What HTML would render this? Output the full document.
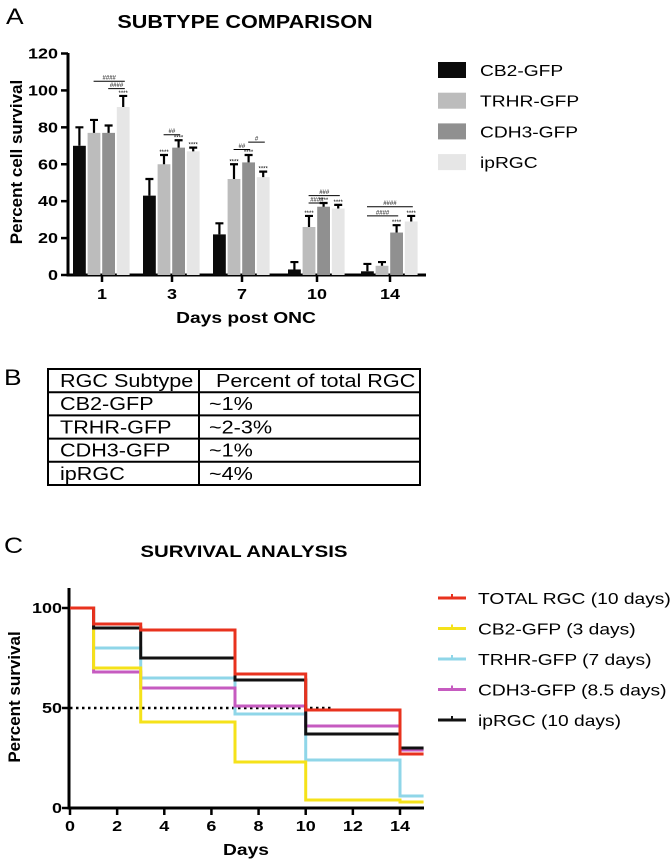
<!DOCTYPE html>
<html><head><meta charset="utf-8"><style>
body{margin:0;background:#fff;font-family:"Liberation Sans",Arial,sans-serif}
svg{display:block}
</style></head><body>
<svg id="fig" width="670" height="863" viewBox="0 0 670 863" xmlns="http://www.w3.org/2000/svg">
<g font-family="Liberation Sans, Arial, sans-serif">
<text class="w" x="6" y="24" font-size="22">A</text>
<text class="w" x="245" y="28" font-size="18" font-weight="bold" text-anchor="middle">SUBTYPE COMPARISON</text>
<g id="chartA"></g>
<text x="22" y="162" font-size="17" font-weight="bold" text-anchor="middle" transform="rotate(-90 22 162)">Percent cell survival</text>
<text class="w" x="246" y="323" font-size="16" font-weight="bold" text-anchor="middle">Days post ONC</text>
<g id="legendA"></g>

<text class="w" x="4" y="385" font-size="22">B</text>
<g id="table"></g>

<text class="w" x="4" y="553" font-size="22">C</text>
<text class="w" x="244" y="557" font-size="17" font-weight="bold" text-anchor="middle">SURVIVAL ANALYSIS</text>
<g id="chartC"></g>
<text x="20" y="697" font-size="17" font-weight="bold" text-anchor="middle" transform="rotate(-90 20 697)">Percent survival</text>
<text class="w" x="246" y="855" font-size="16" font-weight="bold" text-anchor="middle">Days</text>
<g id="legendC"></g>
</g>
</svg>
<script>
const NS="http://www.w3.org/2000/svg";
const groupsA=["1","3","7","10","14"];
const seriesA=["CB2-GFP","TRHR-GFP","CDH3-GFP","ipRGC"];
const cb2Vals=[70,43,22,3,2];
const cb2Err=[10,9,6,4,4];
const trhrVals=[77,60,52,26,5];
const trhrErr=[7,5,8,6,2];
const cdh3Vals=[77,69,61,37,23];
const cdh3Err=[4,4,4,2,4];
const iprgcVals=[91,67,53,36,29];
const iprgcErr=[6,2,3,2,3];
const yTicksA=[0,20,40,60,80,100,120];
const colorsA=["#0a0a0a","#bcbcbc","#909090","#e6e6e6"];

const tableRows=[["RGC Subtype","Percent of total RGC"],["CB2-GFP","~1%"],["TRHR-GFP","~2-3%"],["CDH3-GFP","~1%"],["ipRGC","~4%"]];

const curveNames=["TOTAL RGC (10 days)","CB2-GFP (3 days)","TRHR-GFP (7 days)","CDH3-GFP (8.5 days)","ipRGC (10 days)"];
const stepDays=[0,1,3,7,10,14];
const totalSurv=[100,92,89,67,49,27];
const cb2Surv=[100,70,43,23,4,3];
const trhrSurv=[100,80,65,47,24,6];
const cdh3Surv=[100,68,60,51,41,29];
const iprgcSurv=[100,90,75,64,37,30];
const xTicksC=[0,2,4,6,8,10,12,14];
const yTicksC=[0,50,100];
const colorsC=["#e8321e","#f5e21a","#8fd6e8","#c65bc0","#111111"];

function el(tag,attrs,parent){const e=document.createElementNS(NS,tag);for(const k in attrs)e.setAttribute(k,attrs[k]);parent.appendChild(e);return e;}

// Chart A
const A=document.getElementById('chartA');
const yA=v=>275-v*(221.5/120);
const tickX=[102,172,242,317,390];
const xA=i=>tickX[i];
const ax=el('path',{d:"M68 53 V275 H426",stroke:"#000","stroke-width":3,fill:"none"},A);

yTicksA.forEach(t=>{
 const l=el('line',{x1:61,x2:68,y1:yA(t),y2:yA(t),stroke:"#000","stroke-width":2.5},A);
 
 const tx=el('text',{x:58,y:yA(t)+5,"font-size":15,"font-weight":"bold","text-anchor":"end","class":"w"},A);tx.textContent=t;
 
});
const vals=[cb2Vals,trhrVals,cdh3Vals,iprgcVals],errs=[cb2Err,trhrErr,cdh3Err,iprgcErr];
groupsA.forEach((g,i)=>{
 const cx=xA(i);
 const l=el('line',{x1:cx,x2:cx,y1:275,y2:282,stroke:"#000","stroke-width":2.5},A);
 
 const tx=el('text',{x:cx,y:299,"font-size":15,"font-weight":"bold","text-anchor":"middle","class":"w"},A);tx.textContent=g;
 
 for(let s=0;s<4;s++){
  const x0=cx-29+s*14.6, v=vals[s][i], e=errs[s][i];
  const r=el('rect',{x:x0,y:yA(v),width:12.8,height:275-yA(v),fill:colorsA[s]},A);
  
  const bx=x0+6.4;
  const eb=el('path',{d:`M${bx} ${yA(v)} V${yA(v+e)} M${bx-4} ${yA(v+e)} H${bx+4}`,stroke:"#000","stroke-width":2.2,fill:"none"},A);
  
  if(s>0 && !(i===4&&s===1) && !(i===0&&s<3)){
   const st=el('text',{x:bx,y:yA(v+e)-1,"font-size":6,"text-anchor":"middle"},A);st.textContent="****";
   
  }
 }
});
const brackets=[[0,1,3,105,"####"],[0,2,3,101,"####"],[1,1,2,76,"##"],[2,1,2,68,"##"],[2,2,3,72,"#"],[3,1,3,43,"###"],[3,1,2,39,"####"],[4,0,3,37,"####"],[4,0,2,32,"####"]];
brackets.forEach(b=>{
 const cx=xA(b[0]);const x1=cx-29+b[1]*14.6+6,x2=cx-29+b[2]*14.6+8;
 const l=el('line',{x1:x1,x2:x2,y1:yA(b[3]),y2:yA(b[3]),stroke:"#000","stroke-width":1},A);
 
 const t=el('text',{x:(x1+x2)/2,y:yA(b[3])-1.5,"font-size":6,"text-anchor":"middle"},A);t.textContent=b[4];
 
});
// Legend A
const LA=document.getElementById('legendA');
seriesA.forEach((s,i)=>{
 const y=70+i*30.7;
 const g=el('g',{},LA);
 el('rect',{x:438,y:y-8,width:28,height:16,fill:colorsA[i]},g);
 const t=el('text',{x:480,y:y+6,"font-size":16,"class":"w"},g);t.textContent=s;
});
// Table
const T=document.getElementById('table');
const tl=48,tr=420,tc=199,tt=369,rh=23.2;
el('rect',{x:tl,y:tt,width:tr-tl,height:rh*5,fill:"none",stroke:"#000","stroke-width":2},T);
el('line',{x1:tc,x2:tc,y1:tt,y2:tt+rh*5,stroke:"#000","stroke-width":2},T);
tableRows.forEach((r,i)=>{
 if(i>0)el('line',{x1:tl,x2:tr,y1:tt+rh*i,y2:tt+rh*i,stroke:"#000","stroke-width":2},T);
 const a=el('text',{x:tl+12,y:tt+rh*i+18,"font-size":18,"class":"w"},T);a.textContent=r[0];
 
 const b=el('text',{x:tc+10+(i===0?7:0),y:tt+rh*i+18,"font-size":18,"class":"w"},T);b.textContent=r[1];
 
});
// Chart C
const C=document.getElementById('chartC');
const xC=d=>70+d*(330/14);
const yC=v=>808-v*2;
const axc=el('path',{d:"M69 588 V808 H424",stroke:"#000","stroke-width":3,fill:"none"},C);

yTicksC.forEach(t=>{
 el('line',{x1:62,x2:69,y1:yC(t),y2:yC(t),stroke:"#000","stroke-width":2.5},C);
 const tx=el('text',{x:62,y:yC(t)+5,"font-size":15,"font-weight":"bold","text-anchor":"end","class":"w"},C);tx.textContent=t;
 
});
xTicksC.forEach(t=>{
 el('line',{x1:xC(t),x2:xC(t),y1:808,y2:815,stroke:"#000","stroke-width":2.5},C);
 const tx=el('text',{x:xC(t),y:831,"font-size":15,"font-weight":"bold","text-anchor":"middle","class":"w"},C);tx.textContent=t;
 
});
const dl=el('line',{x1:xC(0),x2:xC(11.2),y1:yC(50),y2:yC(50),stroke:"#000","stroke-width":2.5,"stroke-dasharray":"2.5 3.5"},C);

const curves=[totalSurv,cb2Surv,trhrSurv,cdh3Surv,iprgcSurv];
[2,3,1,4,0].forEach(ci=>{
 const s=curves[ci];let d=`M${xC(0)} ${yC(s[0])}`;
 for(let i=1;i<stepDays.length;i++){d+=` H${xC(stepDays[i])} V${yC(s[i])}`;}
 d+=` H${xC(15)}`;
 const p=el('path',{d:d,stroke:colorsC[ci],"stroke-width":3,fill:"none"},C);
 
});
// Legend C
const LC=document.getElementById('legendC');
curveNames.forEach((n,i)=>{
 const y=598+i*30.5;
 const g=el('g',{},LC);
 el('line',{x1:438,x2:466,y1:y,y2:y,stroke:colorsC[i],"stroke-width":3},g);
 el('line',{x1:452,x2:452,y1:y-4,y2:y,stroke:colorsC[i],"stroke-width":2},g);
 const t=el('text',{x:478,y:y+6,"font-size":16,"class":"w"},g);t.textContent=n;
});
// widen horizontal text to match reference proportions
document.querySelectorAll('text.w').forEach(t=>{
 const L=t.getComputedTextLength();
 if(L>0){t.setAttribute('textLength',(L*1.2).toFixed(1));t.setAttribute('lengthAdjust','spacingAndGlyphs');}
});
</script>
</body></html>
